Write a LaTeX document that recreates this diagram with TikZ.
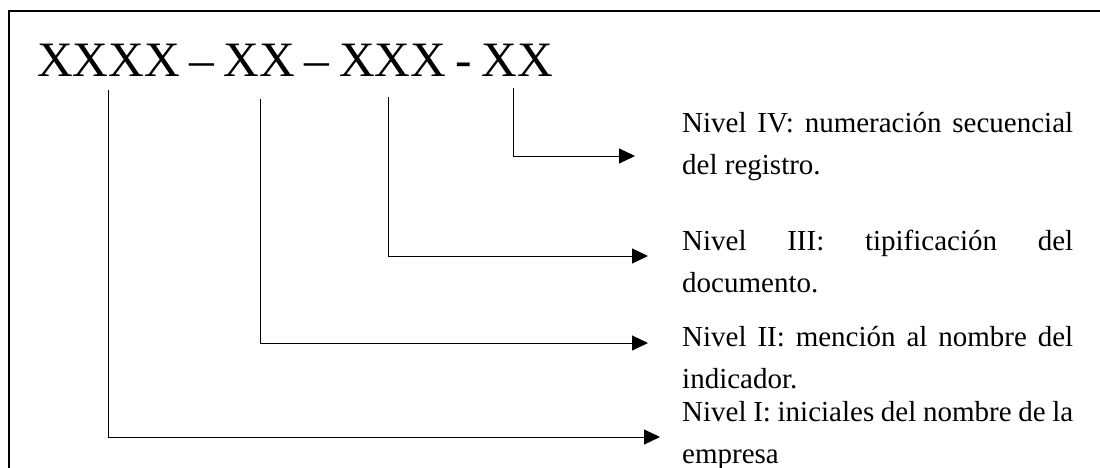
\documentclass[tikz,border=0pt]{standalone}
\usepackage{fontspec}
\setmainfont{Liberation Serif}
\usetikzlibrary{arrows.meta}
\hyphenpenalty=10000
\exhyphenpenalty=10000
\begin{document}
\begin{tikzpicture}[x=1pt,y=-1pt,
  frame/.style={line width=2.2pt},
  conn/.style={line width=1pt,-{Triangle[length=16pt,width=15pt]}},
  code/.style={anchor=base west,inner sep=0pt,font=\fontsize{49.5}{56}\selectfont},
  level/.style={text width=391pt,align=justify,inner sep=0pt,anchor=base west,
    font=\fontsize{29}{42}\selectfont}]
\useasboundingbox (0,0) rectangle (1100,468);
\draw[frame] (9,472) -- (9,11) -- (1104,11);
\node[code] (title) at (37,77) {\spaceskip=9.5pt XXXX – XX – XXX - XX};
% start points under the code groups
\coordinate (s1) at (108,90);
\coordinate (s2) at (260,99);
\coordinate (s3) at (388,97);
\coordinate (s4) at (513,88);
% level descriptions
\node[level] (n4) at (682,133) {Nivel IV: numeración secuencial\linebreak del registro.};
\node[level] (n3) at (682,250) {Nivel III: tipificación del\linebreak documento.};
\node[level] (n2) at (682,346) {Nivel II: mención al nombre del\linebreak indicador.};
\node[level] (n1) at (682,421) {Nivel I: iniciales del nombre de la\linebreak empresa};
% arrow tips
\coordinate (t4) at (635,156);
\coordinate (t3) at (648,256);
\coordinate (t2) at (648,343);
\coordinate (t1) at (660,437);
\draw[conn] (s4) |- (t4);
\draw[conn] (s3) |- (t3);
\draw[conn] (s2) |- (t2);
\draw[conn] (s1) |- (t1);
\end{tikzpicture}
\end{document}
